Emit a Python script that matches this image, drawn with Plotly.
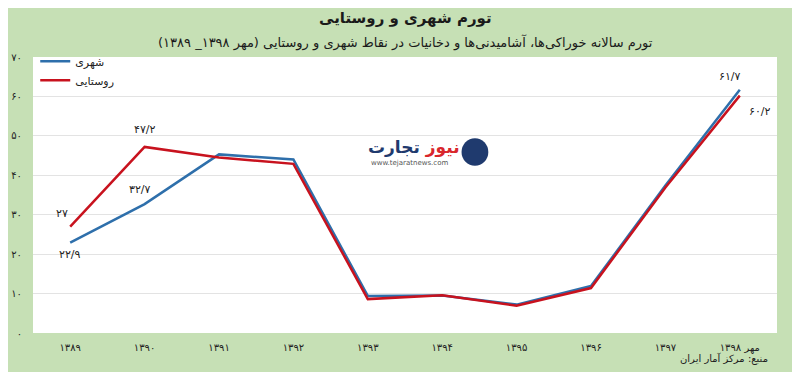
import plotly.graph_objects as go

categories = ["۱۳۸۹", "۱۳۹۰", "۱۳۹۱", "۱۳۹۲", "۱۳۹۳", "۱۳۹۴", "۱۳۹۵", "۱۳۹۶", "۱۳۹۷", "مهر ۱۳۹۸"]
urban = [22.9, 32.7, 45.3, 44.0, 9.4, 9.5, 7.2, 11.9, 37.4, 61.7]
rural = [27.0, 47.2, 44.5, 42.9, 8.6, 9.6, 6.9, 11.4, 36.9, 60.2]
urban_labels = ["۲۲/۹", "۳۲/۷", "", "", "", "", "", "", "", "۶۱/۷"]
rural_labels = ["۲۷", "۴۷/۲", "", "", "", "", "", "", "", "۶۰/۲"]
y_ticks = [0, 10, 20, 30, 40, 50, 60, 70]
y_tick_text = ["۰", "۱۰", "۲۰", "۳۰", "۴۰", "۵۰", "۶۰", "۷۰"]

# label offsets (pixels) for the labelled points
urban_shift = {0: (0, -12), 1: (-5, 15), 9: (-10, 13)}
rural_shift = {0: (-8, 13), 1: (0, 17), 9: (20, -16)}

BLUE = "#2e6fab"
RED = "#c8121e"
BG = "#c6e0b5"
FONT = "DejaVu Sans, Noto Sans, sans-serif"

fig = go.Figure()
fig.add_trace(go.Scatter(
    x=categories, y=urban, name="شهری", mode="lines",
    line=dict(color=BLUE, width=2.5),
))
fig.add_trace(go.Scatter(
    x=categories, y=rural, name="روستایی", mode="lines",
    line=dict(color=RED, width=2.5),
))

annotations = []
for series, labels, shifts in ((urban, urban_labels, urban_shift), (rural, rural_labels, rural_shift)):
    for i, (cat, val, lab) in enumerate(zip(categories, series, labels)):
        if lab:
            dx, dy = shifts[i]
            annotations.append(dict(x=cat, y=val, xref="x", yref="y", text=lab,
                                    showarrow=False, xshift=dx, yshift=dy,
                                    font=dict(size=11, color="#222222")))

annotations += [
    dict(text="<b>تورم شهری و روستایی</b>", x=0.5, y=1.0, xref="paper", yref="paper",
         yshift=39, yanchor="middle", showarrow=False, font=dict(size=15, color="#1a1a1a")),
    dict(text="تورم سالانه خوراکی‌ها، آشامیدنی‌ها و دخانیات در نقاط شهری و روستایی (مهر ۱۳۹۸_ ۱۳۸۹)",
         x=0.5, y=1.0, xref="paper", yref="paper", yshift=15, yanchor="middle",
         showarrow=False, font=dict(size=13, color="#1a1a1a")),
    dict(text="منبع: مرکز آمار ایران", x=1.0, y=0, xref="paper", yref="paper",
         xanchor="right", yanchor="middle", yshift=-25, xshift=-7,
         showarrow=False, font=dict(size=10, color="#222222")),
    dict(text="<b><span style='color:#d9262c'>نیوز</span> <span style='color:#1f3a6e'>تجارت</span></b>",
         x=0.577, y=0.672, xref="paper", yref="paper", xanchor="right", yanchor="middle",
         showarrow=False, font=dict(size=17)),
    dict(text="www.tejaratnews.com", x=0.506, y=0.615, xref="paper", yref="paper",
         xanchor="center", yanchor="middle", showarrow=False, font=dict(size=7, color="#555555")),
]

fig.update_layout(
    width=800, height=372,
    paper_bgcolor=BG, plot_bgcolor="white",
    margin=dict(l=25, r=31, t=49, b=47, autoexpand=False),
    font=dict(family=FONT, color="#222222"),
    showlegend=True,
    legend=dict(x=0.003, y=1.037, xanchor="left", yanchor="top",
                bgcolor="rgba(0,0,0,0)", font=dict(size=11, color="#222222"),
                tracegroupgap=2),
    xaxis=dict(type="category", range=[-0.5, 9.5], showgrid=False, automargin=False,
               tickfont=dict(size=10, color="#222222"), ticks="", showline=False,
               zeroline=False, ticklabelstandoff=7),
    yaxis=dict(range=[0, 70], tickvals=y_ticks, ticktext=y_tick_text, automargin=False,
               showgrid=True, gridcolor="#e3e3e3", gridwidth=1, zeroline=False,
               tickfont=dict(size=10, color="#222222"), ticks="", ticklabelstandoff=10),
    annotations=annotations,
    shapes=[
        dict(type="circle", xref="paper", yref="paper",
             x0=0.576, x1=0.612, y0=0.606, y1=0.706, fillcolor="#1f3a6e", line=dict(width=0)),
    ],
)

fig.write_html("out.html")
